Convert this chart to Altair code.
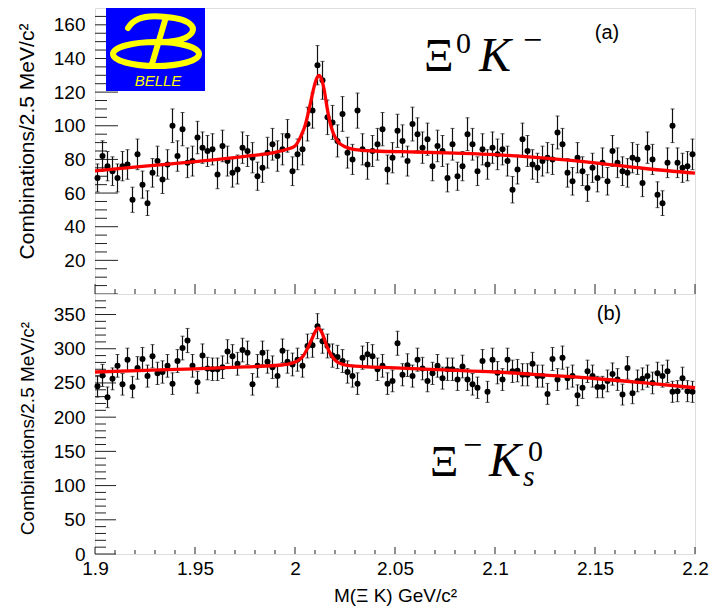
import altair as alt
import pandas as pd

SANS = "Liberation Sans"
SERIF = "Liberation Serif"

X_MIN, X_MAX, BIN_W, N_BINS = 1.9, 2.2, 0.0025, 120

# Xi0 K- candidates per 2.5 MeV bin (panel a)
top_counts = [69, 82, 76, 73, 69, 76, 77, 56, 83, 65,
              54, 72, 79, 68, 77, 100, 82, 98, 78, 79,
              93, 87, 85, 86, 71, 88, 79, 72, 74, 87,
              85, 81, 70, 75, 84, 89, 82, 86, 94, 73,
              83, 86, 101, 109, 136, 127, 105, 102, 91, 107,
              84, 80, 109, 86, 77, 85, 89, 98, 74, 81,
              97, 91, 79, 101, 95, 87, 92, 76, 88, 85,
              69, 89, 70, 76, 95, 89, 73, 86, 77, 87,
              83, 86, 79, 62, 74, 92, 85, 77, 75, 79,
              81, 80, 96, 89, 72, 67, 81, 73, 63, 75,
              69, 78, 67, 85, 78, 73, 72, 81, 80, 66,
              87, 80, 59, 54, 78, 100, 78, 75, 76, 83]

# Xi- K0s candidates per 2.5 MeV bin (panel b)
bot_counts = [245, 261, 229, 256, 275, 248, 284, 244, 272, 285,
              260, 289, 264, 266, 275, 249, 282, 301, 312, 275,
              251, 290, 271, 270, 270, 273, 296, 289, 278, 298,
              294, 248, 275, 294, 281, 273, 260, 297, 281, 277,
              284, 275, 304, 305, 333, 311, 304, 290, 288, 282,
              266, 260, 249, 287, 292, 289, 270, 275, 249, 253,
              308, 262, 276, 260, 284, 271, 253, 264, 275, 257,
              270, 270, 255, 274, 255, 248, 243, 282, 237, 284,
              265, 255, 284, 267, 268, 262, 262, 278, 260, 260,
              234, 285, 255, 287, 257, 260, 232, 243, 267, 260,
              244, 244, 253, 263, 255, 233, 272, 235, 253, 256,
              260, 250, 264, 260, 267, 237, 238, 257, 238, 237]

# fit curves
top_fit_x = [1.900, 1.925, 1.950, 1.975, 1.990, 1.996, 2.000, 2.003, 2.005, 2.0065,
             2.008, 2.0095, 2.011, 2.012, 2.013, 2.0145, 2.016, 2.0175, 2.019, 2.0215,
             2.025, 2.030, 2.040, 2.060, 2.080, 2.100, 2.125, 2.150, 2.175, 2.200]
top_fit_y = [73.2, 76.0, 78.7, 81.8, 84.2, 86.0, 88.0, 94.0, 100.0, 107.0,
             115.0, 123.0, 128.5, 130.0, 128.5, 122.0, 111.0, 102.0, 96.0, 90.5,
             87.5, 85.8, 85.0, 84.4, 83.7, 82.8, 80.8, 78.0, 74.6, 71.8]

bot_fit_x = [1.900, 1.925, 1.950, 1.975, 1.990, 1.997, 2.001, 2.004, 2.0065, 2.009,
             2.0105, 2.0117, 2.013, 2.0145, 2.016, 2.018, 2.0205, 2.024, 2.030, 2.050,
             2.075, 2.100, 2.125, 2.150, 2.175, 2.200]
bot_fit_y = [266, 268.5, 270.5, 273.5, 275.5, 278, 282, 289, 302, 318,
             327, 330.5, 326, 316, 303, 291, 282, 277, 274.5, 272,
             269, 266, 261.5, 256.5, 250, 243]

x_major = [1.9, 1.95, 2.0, 2.05, 2.1, 2.15, 2.2]
x_minor = [round(1.9 + 0.01 * k, 3) for k in range(31) if k % 5 != 0]

top_y_labels = [20, 40, 60, 80, 100, 120, 140, 160]
top_y_major = [0] + top_y_labels
top_y_minor = [v for v in range(5, 170, 5) if v % 20 != 0]

bot_y_labels = [0, 50, 100, 150, 200, 250, 300, 350]
bot_y_major = bot_y_labels
bot_y_minor = [v for v in range(10, 380, 10) if v % 50 != 0]

centers = [X_MIN + BIN_W * (i + 0.5) for i in range(N_BINS)]

W = 600
H_TOP = 286
H_BOT = 260


def text_layer(t, x, y, **kw):
    return alt.Chart(pd.DataFrame({"t": [t]})).mark_text(**kw).encode(
        text="t:N", x=alt.value(x), y=alt.value(y))


def ellipse(cx, cy, rx, ry):
    k = 0.5523
    return (f"M{cx-rx:.3f},{cy:.3f} "
            f"C{cx-rx:.3f},{cy-k*ry:.3f} {cx-k*rx:.3f},{cy-ry:.3f} {cx:.3f},{cy-ry:.3f} "
            f"C{cx+k*rx:.3f},{cy-ry:.3f} {cx+rx:.3f},{cy-k*ry:.3f} {cx+rx:.3f},{cy:.3f} "
            f"C{cx+rx:.3f},{cy+k*ry:.3f} {cx+k*rx:.3f},{cy+ry:.3f} {cx:.3f},{cy+ry:.3f} "
            f"C{cx-k*rx:.3f},{cy+ry:.3f} {cx-rx:.3f},{cy+k*ry:.3f} {cx-rx:.3f},{cy:.3f} Z")


LOGO_PATH = (ellipse(0.0, 0.26, 0.86, 0.24) + " "
             "M0.20,-0.48 L-0.08,0.46 "
             "M-0.56,-0.26 C-0.42,-0.50 -0.10,-0.52 0.20,-0.48 "
             "C0.72,-0.44 0.90,-0.22 0.58,-0.06 C0.46,-0.01 0.28,0.02 0.12,0.02")


def panel(counts, fit_x, fit_y, ymax, h, y_labels, y_major, y_minor,
          yt_major, yt_minor, xt_major, xt_minor, bottom, title_size, title_y, extras):
    xs = alt.Scale(domain=[X_MIN, X_MAX], nice=False, zero=False)
    ys = alt.Scale(domain=[0, ymax], nice=False, zero=False)
    if bottom:
        xaxis = alt.Axis(values=x_major, format="~g", ticks=False, domain=False, grid=False,
                         labelFontSize=19, labelPadding=5, labelFont=SANS, labelColor="black",
                         labelFlush=False, labelOverlap=False,
                         title="M(Ξ K) GeV/c²", titleFontSize=19, titleFont=SANS,
                         titleFontWeight="normal", titleColor="black",
                         titleY=32, titleBaseline="top")
    else:
        xaxis = alt.Axis(labels=False, ticks=False, domain=False, grid=False, title=None)
    yaxis = alt.Axis(values=y_labels, ticks=False, domain=False, grid=False,
                     labelFontSize=19, labelPadding=10, labelFont=SANS, labelColor="black",
                     labelOverlap=False, labelFlush=False,
                     title="Combinations/2.5 MeV/c²", titleFontSize=title_size, titleFont=SANS,
                     titleFontWeight="normal", titleColor="black",
                     titleX=-58, titleY=title_y, titleAlign="center", titleBaseline="bottom",
                     titleAngle=270)
    X = alt.X("x:Q", scale=xs, axis=xaxis)
    Y = alt.Y("y:Q", scale=ys, axis=yaxis)

    df = pd.DataFrame({"x": centers, "y": counts})
    base = alt.Chart(df).transform_calculate(
        lo="datum.y - sqrt(datum.y)", hi="datum.y + sqrt(datum.y)")
    bars = base.mark_rule(color="#111", strokeWidth=1.2).encode(
        x=X, y=alt.Y("lo:Q", scale=ys, axis=yaxis), y2="hi:Q")
    cap_lo = base.mark_tick(orient="horizontal", size=4, thickness=1, color="#111").encode(
        x=X, y=alt.Y("lo:Q", scale=ys, axis=yaxis))
    cap_hi = base.mark_tick(orient="horizontal", size=4, thickness=1, color="#111").encode(
        x=X, y=alt.Y("hi:Q", scale=ys, axis=yaxis))
    pts = base.mark_circle(size=36, color="black", opacity=1).encode(x=X, y=Y)

    fit = alt.Chart(pd.DataFrame({"x": fit_x, "y": fit_y})).mark_line(
        color="#ff0000", strokeWidth=3.3, interpolate="monotone").encode(x=X, y=Y)

    ymaj = alt.Chart(pd.DataFrame({"y": y_major})).mark_rule(color="#222", strokeWidth=1).encode(
        y=Y, x=alt.value(0), x2=alt.value(yt_major))
    ymin = alt.Chart(pd.DataFrame({"y": y_minor})).mark_rule(color="#222", strokeWidth=1).encode(
        y=Y, x=alt.value(0), x2=alt.value(yt_minor))
    xmaj = alt.Chart(pd.DataFrame({"x": x_major})).mark_rule(color="#222", strokeWidth=1).encode(
        x=X, y=alt.value(h), y2=alt.value(h - xt_major))
    xmin = alt.Chart(pd.DataFrame({"x": x_minor})).mark_rule(color="#222", strokeWidth=1).encode(
        x=X, y=alt.value(h), y2=alt.value(h - xt_minor))

    layers = [ymaj, ymin, xmaj, xmin, bars, cap_lo, cap_hi, pts, fit] + extras
    return alt.layer(*layers).properties(width=W, height=h)


top_extras = [
    # invisible (white) anchor fixing the page origin of the plot area
    alt.Chart(pd.DataFrame({"a": [1]})).mark_rule(color="white", strokeWidth=1).encode(
        x=alt.value(-93.5), x2=alt.value(-90), y=alt.value(-6.5)),
    alt.Chart(pd.DataFrame({"a": [1]})).mark_rect(color="#0000ff").encode(
        x=alt.value(11), x2=alt.value(110), y=alt.value(0), y2=alt.value(83)),
    alt.Chart(pd.DataFrame({"a": [1]})).mark_point(
        shape=LOGO_PATH, filled=False, color="#ffff00", strokeWidth=6, size=10000,
        opacity=1, strokeCap="round").encode(x=alt.value(61), y=alt.value(33)),
    text_layer("BELLE", 63, 78, font=SANS, fontSize=15, fontStyle="italic",
               color="#ffff00", align="center", baseline="alphabetic"),
    text_layer("(a)", 512, 25, font=SANS, fontSize=20, color="black",
               align="center", baseline="middle"),
    text_layer("Ξ", 329, 63, font=SERIF, fontSize=46, color="black",
               align="left", baseline="alphabetic"),
    text_layer("0", 361, 45, font=SERIF, fontSize=30, color="black",
               align="left", baseline="alphabetic"),
    text_layer("K", 384, 63, font=SERIF, fontSize=48, fontStyle="italic", color="black",
               align="left", baseline="alphabetic"),
    text_layer("−", 428, 33, font=SERIF, fontSize=34, color="black",
               align="left", baseline="middle"),
]

bot_extras = [
    text_layer("(b)", 514, 20, font=SANS, fontSize=20, color="black",
               align="center", baseline="middle"),
    text_layer("Ξ", 335, 182, font=SERIF, fontSize=44, color="black",
               align="left", baseline="alphabetic"),
    text_layer("−", 368, 152, font=SERIF, fontSize=34, color="black",
               align="left", baseline="middle"),
    text_layer("K", 394, 182, font=SERIF, fontSize=48, fontStyle="italic", color="black",
               align="left", baseline="alphabetic"),
    text_layer("0", 433, 167, font=SERIF, fontSize=30, color="black",
               align="left", baseline="alphabetic"),
    text_layer("s", 428, 192, font=SERIF, fontSize=30, fontStyle="italic", color="black",
               align="left", baseline="alphabetic"),
]

top = panel(top_counts, top_fit_x, top_fit_y, 170, H_TOP, top_y_labels, top_y_major,
            top_y_minor, 23, 12, 10, 5, False, 21, 133, top_extras)
bot = panel(bot_counts, bot_fit_x, bot_fit_y, 380, H_BOT, bot_y_labels, bot_y_major,
            bot_y_minor, 21, 11, 7, 4, True, 19, 134, bot_extras)

chart = alt.vconcat(top, bot, spacing=0, bounds="flush").properties(
    padding={"left": 0, "top": 0, "right": 0, "bottom": 0},
).configure_view(stroke="#222", strokeWidth=1).configure(background="white")

chart.save("out.html", embed_options={"renderer": "svg", "actions": False})
